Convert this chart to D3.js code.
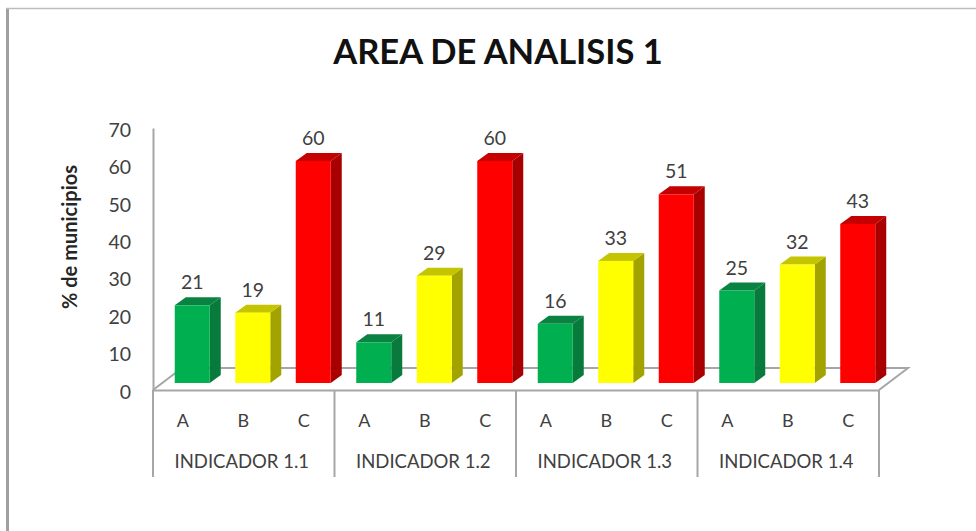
<!DOCTYPE html>
<html>
<head>
<meta charset="utf-8">
<script src="https://cdn.jsdelivr.net/npm/d3@7"></script>
<style>
  html, body { margin: 0; padding: 0; background: #fff; }
  svg { display: block; }
</style>
</head>
<body>
<div id="chart"></div>
<script>
const indicators = ["INDICADOR 1.1", "INDICADOR 1.2", "INDICADOR 1.3", "INDICADOR 1.4"];
const levels = ["A", "B", "C"];
const valuesA = [21, 11, 16, 25];
const valuesB = [19, 29, 33, 32];
const valuesC = [60, 60, 51, 43];
const yTicks = [0, 10, 20, 30, 40, 50, 60, 70];
const faceColors = { A: "#00b050", B: "#ffff00", C: "#ff0000" };
const sideColors = { A: "#087a3c", B: "#a3a300", C: "#a80000" };
const topColors = { A: "#0a8242", B: "#c4c400", C: "#c40000" };

const width = 976;
const height = 531;
const font = "Lato, 'Open Sans', sans-serif";
const gridColor = "#a6a6a6";
const textColor = "#404040";

const bars = indicators.flatMap((ind, i) => [
  { ind, level: "A", value: valuesA[i] },
  { ind, level: "B", value: valuesB[i] },
  { ind, level: "C", value: valuesC[i] }
]);

const left = 153, right = 879, floorY = 390;
const depthX = 11, depthY = 8, barWidth = 35, barShift = 9;
const floorDepthX = 29, floorDepthY = 22;

const x0 = d3.scaleBand().domain(indicators).range([left, right]);
const x1 = d3.scaleBand().domain(levels).range([0, x0.bandwidth()]);
const y = d3.scaleLinear().domain([0, 70]).range([floorY, 128]);
// bars stand on the floor, a little behind the front edge
const yBar = d3.scaleLinear().domain([0, 70]).range([383, 124]);

const svg = d3.select("#chart").append("svg")
  .attr("width", width)
  .attr("height", height)
  .attr("viewBox", [0, 0, width, height]);

// frame, heavier on the left
svg.append("path")
  .attr("d", `M7.5,${height}V8`)
  .attr("stroke", "#a0a0a0")
  .attr("stroke-width", 3);
svg.append("path")
  .attr("d", `M6,8.5H${width}`)
  .attr("stroke", "#bdbdbd")
  .attr("stroke-width", 1.5);

svg.append("text")
  .attr("x", 498)
  .attr("y", 64)
  .attr("text-anchor", "middle")
  .attr("font-family", font)
  .attr("font-weight", 700)
  .attr("font-size", 34.5)
  .attr("fill", "#111")
  .text("AREA DE ANALISIS 1");

svg.append("text")
  .attr("transform", "translate(77,237) rotate(-90)")
  .attr("text-anchor", "middle")
  .attr("font-family", font)
  .attr("font-weight", 700)
  .attr("font-size", 20)
  .attr("fill", "#262626")
  .text("% de municipios");

// floor of the 3d box
svg.append("path")
  .attr("d", d3.line()([
    [left, floorY],
    [left + floorDepthX, floorY - floorDepthY],
    [right + floorDepthX, floorY - floorDepthY],
    [right, floorY]
  ]))
  .attr("fill", "none")
  .attr("stroke", gridColor)
  .attr("stroke-width", 2);

const yAxis = svg.append("g")
  .attr("transform", `translate(${left},0)`)
  .call(d3.axisLeft(y).tickValues(yTicks).tickSize(0).tickPadding(22));
yAxis.select(".domain").attr("stroke", gridColor).attr("stroke-width", 2);
yAxis.selectAll("text")
  .attr("y", 2)
  .attr("font-family", font)
  .attr("font-size", 19.5)
  .attr("fill", textColor);

const xAxis = svg.append("g")
  .attr("transform", `translate(0,${floorY})`)
  .call(d3.axisBottom(x0).tickSize(0).tickFormat(""));
xAxis.select(".domain").attr("stroke", gridColor).attr("stroke-width", 2);

svg.append("g")
  .attr("stroke", gridColor)
  .attr("stroke-width", 2)
  .selectAll("line")
  .data(indicators.concat("end"))
  .join("line")
  .attr("x1", d => d === "end" ? right : x0(d))
  .attr("x2", d => d === "end" ? right : x0(d))
  .attr("y1", floorY)
  .attr("y2", 477);

const barX = d => x0(d.ind) + x1(d.level) + x1.bandwidth() / 2 + barShift - barWidth / 2;

const bar = svg.append("g")
  .selectAll("g")
  .data(bars)
  .join("g");

bar.append("path")
  .attr("fill", d => sideColors[d.level])
  .attr("d", d => {
    const xr = barX(d) + barWidth;
    return d3.line()([
      [xr, yBar(d.value)],
      [xr + depthX, yBar(d.value) - depthY],
      [xr + depthX, yBar(0) - depthY],
      [xr, yBar(0)]
    ]);
  });

bar.append("path")
  .attr("fill", d => topColors[d.level])
  .attr("d", d => {
    const xl = barX(d), t = yBar(d.value);
    return d3.line()([
      [xl, t],
      [xl + depthX, t - depthY],
      [xl + barWidth + depthX, t - depthY],
      [xl + barWidth, t]
    ]);
  });

bar.append("rect")
  .attr("x", barX)
  .attr("y", d => yBar(d.value))
  .attr("width", barWidth)
  .attr("height", d => yBar(0) - yBar(d.value))
  .attr("fill", d => faceColors[d.level]);

bar.append("text")
  .attr("x", d => barX(d) + barWidth / 2)
  .attr("y", d => yBar(d.value) - 16)
  .attr("text-anchor", "middle")
  .attr("font-family", font)
  .attr("font-size", 19.5)
  .attr("fill", textColor)
  .text(d => d.value);

svg.append("g")
  .selectAll("text")
  .data(bars)
  .join("text")
  .attr("x", d => x0(d.ind) + x1(d.level) + x1.bandwidth() / 2 - 0.5)
  .attr("y", 427)
  .attr("text-anchor", "middle")
  .attr("font-family", font)
  .attr("font-size", 18)
  .attr("fill", textColor)
  .text(d => d.level);

svg.append("g")
  .selectAll("text")
  .data(indicators)
  .join("text")
  .attr("x", d => x0(d) + x0.bandwidth() / 2 - 2)
  .attr("y", 468)
  .attr("text-anchor", "middle")
  .attr("font-family", font)
  .attr("font-size", 18.5)
  .attr("fill", textColor)
  .text(d => d);
</script>
</body>
</html>
